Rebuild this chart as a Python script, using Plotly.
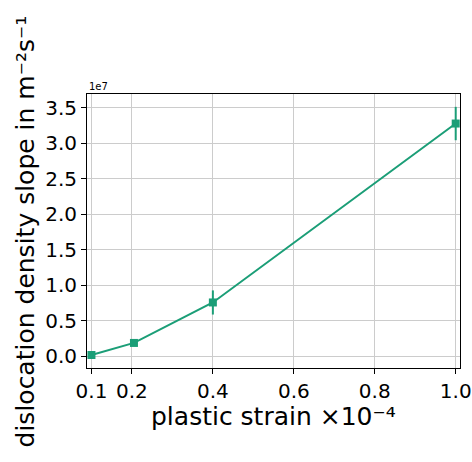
import numpy as np
import plotly.graph_objects as go

# plastic strain (units of 1e-4) and measured dislocation density slope (m^-2 s^-1)
strain = [0.1, 0.205, 0.4, 1.0]
slope = [0.02e7, 0.19e7, 0.76e7, 3.28e7]
slope_err = [0.0, 0.0, 0.17e7, 0.235e7]

y_ticks = [0.0, 0.5, 1.0, 1.5, 2.0, 2.5, 3.0, 3.5]
x_ticks = [0.1, 0.2, 0.4, 0.6, 0.8, 1.0]

scale = 1e7
color = "#1b9e77"
font = "DejaVu Sans"

y = np.array(slope) / scale
yerr = np.array(slope_err) / scale

fig = go.Figure()
fig.add_trace(go.Scatter(
    x=strain, y=y,
    mode="lines+markers",
    line=dict(color=color, width=2),
    marker=dict(symbol="square", size=8, color=color),
    error_y=dict(type="data", array=yerr, visible=True, color=color,
                 thickness=2, width=0),
    showlegend=False,
))

axis_common = dict(
    showline=True, linecolor="black", linewidth=1, mirror=True,
    ticks="outside", ticklen=5, tickwidth=1, tickcolor="black",
    showgrid=True, gridcolor="#cccccc", gridwidth=1.2,
    zeroline=False, automargin=False,
    tickfont=dict(family=font, size=20, color="black"),
)

fig.update_xaxes(
    range=[0.089, 1.0106],
    tickvals=x_ticks, ticktext=[f"{v:.1f}" for v in x_ticks],
    **axis_common,
)
fig.update_yaxes(
    range=[-0.163, 3.696],
    tickvals=y_ticks, ticktext=[f"{v:.1f}" for v in y_ticks],
    **axis_common,
)

fig.add_annotation(
    text="plastic strain ×10⁻⁴",
    xref="paper", yref="paper", x=0.5, y=-0.177,
    xanchor="center", yanchor="middle", showarrow=False,
    font=dict(family=font, size=25, color="black"),
)
fig.add_annotation(
    text="dislocation density slope in m⁻²s⁻¹",
    xref="paper", yref="paper", x=-0.165, y=0.5,
    xanchor="center", yanchor="middle", textangle=-90, showarrow=False,
    font=dict(family=font, size=25, color="black"),
)
fig.add_annotation(
    text="1e7",
    xref="paper", yref="paper", x=0.0, y=1.0,
    xanchor="left", yanchor="bottom", showarrow=False,
    font=dict(family=font, size=10, color="black"),
)

fig.update_layout(
    width=472, height=462,
    margin=dict(l=87, r=12, t=94, b=94),
    plot_bgcolor="white", paper_bgcolor="white",
    font=dict(family=font, color="black"),
)

fig.write_html("out.html")
